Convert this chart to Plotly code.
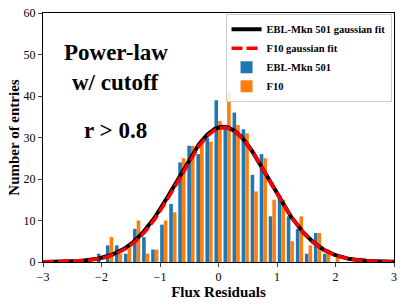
import numpy as np
import plotly.graph_objects as go

# Histogram bin centers (Flux Residuals) and counts
bin_centers = [-2.017, -1.862, -1.708, -1.553, -1.399, -1.244, -1.089, -0.935, -0.780, -0.626,
               -0.471, -0.316, -0.162, -0.007, 0.147, 0.302, 0.457, 0.611, 0.766, 0.920,
               1.075, 1.229, 1.384, 1.539, 1.693, 1.848, 2.002, 2.157, 2.311, 2.466]
bin_width = 0.1546
ebl_counts = [2, 4, 4, 2, 8, 6, 3, 9, 14, 24, 28, 26, 30, 39, 33, 36, 32, 21, 26, 11,
              16, 11, 8, 2, 7, 2, 0, 0, 0, 1]
f10_counts = [0, 6, 2, 4, 10, 2, 3, 10, 12, 25, 28, 29, 29, 34, 41, 33, 31, 17, 25, 15,
              15, 5, 11, 4, 7, 3, 1, 0, 0, 1]

# Gaussian fit parameters (amplitude, mean, sigma)
ebl_fit = dict(amp=32.6, mu=0.08, sigma=0.785)
f10_fit = dict(amp=32.4, mu=0.09, sigma=0.78)

x_ticks = [-3, -2, -1, 0, 1, 2, 3]
y_ticks = [0, 10, 20, 30, 40, 50, 60]

xs = np.linspace(-3, 3, 601)


def gauss(x, p):
    return p["amp"] * np.exp(-(x - p["mu"]) ** 2 / (2 * p["sigma"] ** 2))


serif = "Liberation Serif"
bw = 0.4 * bin_width

fig = go.Figure()
fig.add_trace(go.Bar(x=bin_centers, y=ebl_counts, width=bw, offset=-bw,
                     marker=dict(color="#1f77b4", line=dict(width=0)),
                     name="EBL-Mkn 501", legendrank=3))
fig.add_trace(go.Bar(x=bin_centers, y=f10_counts, width=bw, offset=0,
                     marker=dict(color="#ff7f0e", line=dict(width=0)),
                     name="F10", legendrank=4))
fig.add_trace(go.Scatter(x=xs, y=gauss(xs, ebl_fit), mode="lines",
                         line=dict(color="black", width=4),
                         name="EBL-Mkn 501 gaussian fit", legendrank=1))
fig.add_trace(go.Scatter(x=xs, y=gauss(xs, f10_fit), mode="lines",
                         line=dict(color="red", width=3.5, dash="11px,4px"),
                         name="F10 gaussian fit", legendrank=2))

fig.update_layout(
    width=407, height=305,
    margin=dict(l=43, r=13, t=13, b=43, autoexpand=False),
    plot_bgcolor="white", paper_bgcolor="white",
    barmode="overlay",
    font=dict(family=serif, size=11, color="black"),
    legend=dict(x=0.993, y=0.997, xanchor="right", yanchor="top",
                bgcolor="rgba(255,255,255,0.85)", bordercolor="#cccccc", borderwidth=1,
                font=dict(family=serif, size=10.5, weight="bold"),
                tracegroupgap=0, itemwidth=30),
    showlegend=True,
)
fig.update_xaxes(range=[-3, 3], tickvals=x_ticks, ticks="outside", ticklen=4,
                 showline=True, linecolor="black", linewidth=1, mirror=True,
                 showgrid=False, zeroline=False, automargin=False,
                 tickfont=dict(family=serif, size=12),
                 title=dict(text="Flux Residuals", standoff=0,
                            font=dict(family=serif, size=15, weight="bold")))
fig.update_yaxes(range=[0, 60], tickvals=y_ticks, ticks="outside", ticklen=4,
                 showline=True, linecolor="black", linewidth=1, mirror=True,
                 showgrid=False, zeroline=False, automargin=False,
                 tickfont=dict(family=serif, size=12),
                 title=dict(text="Number of entries", standoff=0,
                            font=dict(family=serif, size=15, weight="bold")))

for txt, yy in [("Power-law", 0.84), ("w/ cutoff", 0.72), ("r > 0.8", 0.53)]:
    fig.add_annotation(text=txt, x=0.207, y=yy, xref="paper", yref="paper",
                       showarrow=False, xanchor="center", yanchor="middle",
                       font=dict(family=serif, size=23, weight="bold", color="black"))

fig.write_html("out.html", config={"displayModeBar": False},
               post_script="document.body.style.margin='0';document.body.style.overflow='hidden';")
